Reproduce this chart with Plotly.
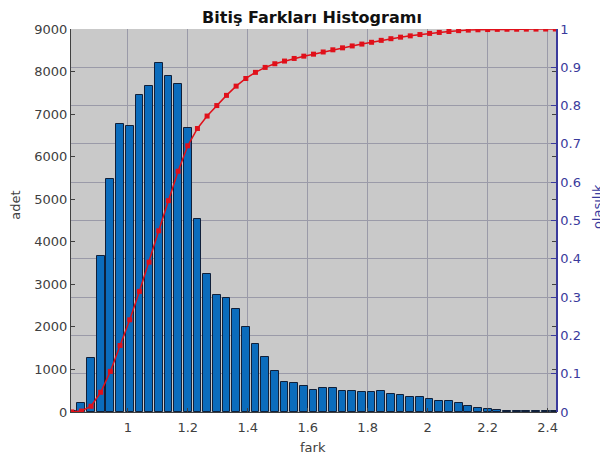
import plotly.graph_objects as go

# bin centers (fark)
bin_centers = [0.8128, 0.8451, 0.8773, 0.9096, 0.9418, 0.9741, 1.0064, 1.0386, 1.0709, 1.1031,
               1.1354, 1.1677, 1.1999, 1.2322, 1.2644, 1.2967, 1.3290, 1.3612, 1.3935, 1.4257,
               1.4580, 1.4903, 1.5225, 1.5548, 1.5870, 1.6193, 1.6516, 1.6838, 1.7161, 1.7483,
               1.7806, 1.8129, 1.8451, 1.8774, 1.9096, 1.9419, 1.9742, 2.0064, 2.0387, 2.0709,
               2.1032, 2.1355, 2.1677, 2.2000, 2.2322, 2.2645, 2.2968, 2.3290, 2.3613, 2.3935,
               2.4258]

# counts (adet)
counts = [20, 221, 1262, 3665, 5468, 6776, 6720, 7441, 7660, 8200,
          7895, 7700, 6673, 4528, 3252, 2742, 2671, 2413, 2006, 1607,
          1292, 963, 705, 674, 604, 526, 573, 573, 503, 503,
          479, 479, 503, 432, 400, 345, 345, 298, 251, 251,
          220, 141, 87, 63, 40, 25, 15, 15, 15, 15,
          15]

# cumulative probability (olasılık)
cdf = [0.0002, 0.0024, 0.0150, 0.0515, 0.1060, 0.1737, 0.2407, 0.3149, 0.3913, 0.4731,
       0.5518, 0.6286, 0.6951, 0.7403, 0.7727, 0.8001, 0.8267, 0.8508, 0.8708, 0.8868,
       0.8997, 0.9093, 0.9163, 0.9231, 0.9291, 0.9343, 0.9400, 0.9457, 0.9508, 0.9558,
       0.9606, 0.9653, 0.9704, 0.9747, 0.9787, 0.9821, 0.9855, 0.9885, 0.9910, 0.9935,
       0.9957, 0.9971, 0.9980, 0.9986, 0.9990, 0.9993, 0.9994, 0.9996, 0.9997, 0.9999,
       1.0000]

x_ticks = [1, 1.2, 1.4, 1.6, 1.8, 2, 2.2, 2.4]
y_ticks = [0, 1000, 2000, 3000, 4000, 5000, 6000, 7000, 8000, 9000]
y2_ticks = [0, 0.1, 0.2, 0.3, 0.4, 0.5, 0.6, 0.7, 0.8, 0.9, 1]

FONT = "DejaVu Sans"
AX = "#404040"
AX2 = "#3a3a9c"

# page body has an 8px margin -> figure is 600x450 so it fills the 608x458 window
W, H = 600, 450
L, T = 63, 21
R, B = W - 547.7, H - 404.5
PW, PH = W - L - R, H - T - B

fig = go.Figure()
fig.add_trace(go.Bar(
    x=bin_centers, y=counts, width=0.026,
    marker=dict(color="#0b6cbc", line=dict(color="#10203a", width=1)),
    yaxis="y", showlegend=False,
))
fig.add_trace(go.Scatter(
    x=bin_centers, y=cdf, mode="lines+markers",
    line=dict(color="#e0101a", width=1.5),
    marker=dict(symbol="square", size=5, color="#e0101a"),
    yaxis="y2", showlegend=False,
))

fig.update_layout(
    width=W, height=H,
    margin=dict(l=L, r=R, t=T, b=B, autoexpand=False),
    paper_bgcolor="white", plot_bgcolor="#c9c9c9",
    font=dict(family=FONT, size=13, color=AX),
    title=dict(text="<b>Bitiş Farkları Histogramı</b>", x=(312 - 8) / W,
               xanchor="center", xref="container",
               y=1 - 9 / H, yanchor="middle", font=dict(family=FONT, size=16, color="#111111")),
    bargap=0,
    xaxis=dict(range=[0.8105, 2.428], tickvals=x_ticks, ticktext=[str(v) for v in x_ticks],
               automargin=False, ticklabelstandoff=3,
               showgrid=True, gridcolor="#9a9aa8", gridwidth=1, zeroline=False,
               showline=True, linecolor=AX, linewidth=1, ticks="inside", ticklen=4, tickcolor=AX,
               tickfont=dict(size=13, color=AX)),
    yaxis=dict(range=[0, 9000], tickvals=y_ticks, showgrid=False, zeroline=False,
               automargin=False,
               showline=True, linecolor=AX, linewidth=1, ticks="inside", ticklen=4, tickcolor=AX,
               mirror="ticks",
               tickfont=dict(size=13, color=AX)),
    yaxis2=dict(range=[0, 1], tickvals=y2_ticks, ticktext=[("%g" % v) for v in y2_ticks],
                automargin=False,
                overlaying="y", side="right", showgrid=True, gridcolor="#9a9aa8", gridwidth=1,
                zeroline=False, showline=True, linecolor=AX2, linewidth=1.5,
                ticks="inside", ticklen=5, tickcolor=AX2,
                tickfont=dict(size=13, color=AX2)),
    annotations=[
        dict(text="fark", xref="paper", yref="paper",
             x=(305 - L) / PW, y=(H - B - 440) / PH, xanchor="center", yanchor="middle",
             showarrow=False, font=dict(size=13, color=AX)),
        dict(text="adet", textangle=-90, xref="paper", yref="paper",
             x=(8 - L) / PW, y=(H - B - 197) / PH, xanchor="center", yanchor="middle",
             showarrow=False, font=dict(size=13, color=AX)),
        dict(text="olasılık", textangle=-90, xref="paper", yref="paper",
             x=(589 - L) / PW, y=(H - B - 199) / PH, xanchor="center", yanchor="middle",
             showarrow=False, font=dict(size=13, color=AX2)),
    ],
)

fig.write_html("out.html")
